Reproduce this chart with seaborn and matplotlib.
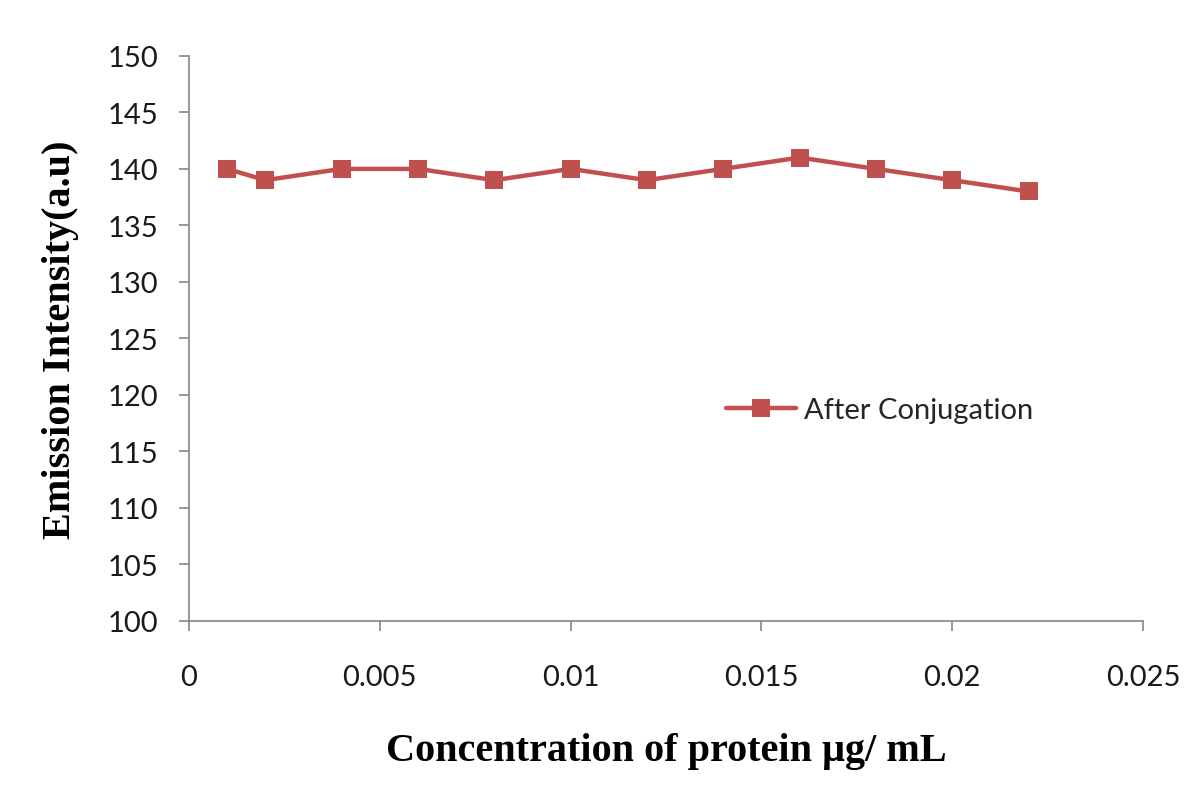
import matplotlib.pyplot as plt
import pandas as pd
import seaborn as sns

# values
concentration = [0.001, 0.002, 0.004, 0.006, 0.008, 0.010, 0.012, 0.014, 0.016, 0.018, 0.020, 0.022]
intensity = [140, 139, 140, 140, 139, 140, 139, 140, 141, 140, 139, 138]
series_name = "After Conjugation"
x_ticks = [0, 0.005, 0.01, 0.015, 0.02, 0.025]
x_labels = ["0", "0.005", "0.01", "0.015", "0.02", "0.025"]
y_ticks = [100, 105, 110, 115, 120, 125, 130, 135, 140, 145, 150]

df = pd.DataFrame({"conc": concentration, "emission": intensity, "series": series_name})

sns.set_style("white")
plt.rcParams['font.family'] = ['Lato', 'DejaVu Sans']

fig = plt.figure(figsize=(12, 8.12), dpi=100)
ax = fig.add_axes([0.1575, 0.234, 0.795, 0.696])

red = "#C0504D"
sns.lineplot(data=df, x="conc", y="emission", hue="series", palette=[red],
             marker="s", markersize=12.5, markeredgewidth=0, linewidth=3.2, ax=ax)

ax.set_xlim(0, 0.025)
ax.set_ylim(100, 150)
ax.set_xticks(x_ticks)
ax.set_xticklabels(x_labels)
ax.set_yticks(y_ticks)

grey = "#868686"
for s in ["top", "right"]:
    ax.spines[s].set_visible(False)
for s in ["left", "bottom"]:
    ax.spines[s].set_color(grey)
    ax.spines[s].set_linewidth(1.2)
ax.tick_params(axis="both", direction="out", length=7, width=1.2, color=grey,
               labelsize=21, labelcolor="#1a1a1a", bottom=True, left=True)
ax.tick_params(axis="x", pad=24)
ax.tick_params(axis="y", pad=15)

lab_font = dict(family="Liberation Serif", weight="bold", size=29, color="black")
ax.set_xlabel("Concentration of protein μg/ mL", fontdict=lab_font, labelpad=30)
ax.set_ylabel("Emission Intensity(a.u)", fontdict=lab_font, labelpad=21)

ax.legend(loc="center left", bbox_to_anchor=(0.535, 0.373), frameon=False,
          fontsize=21, handlelength=2.4, handletextpad=0.3)

fig.savefig("out.png", dpi=100)
